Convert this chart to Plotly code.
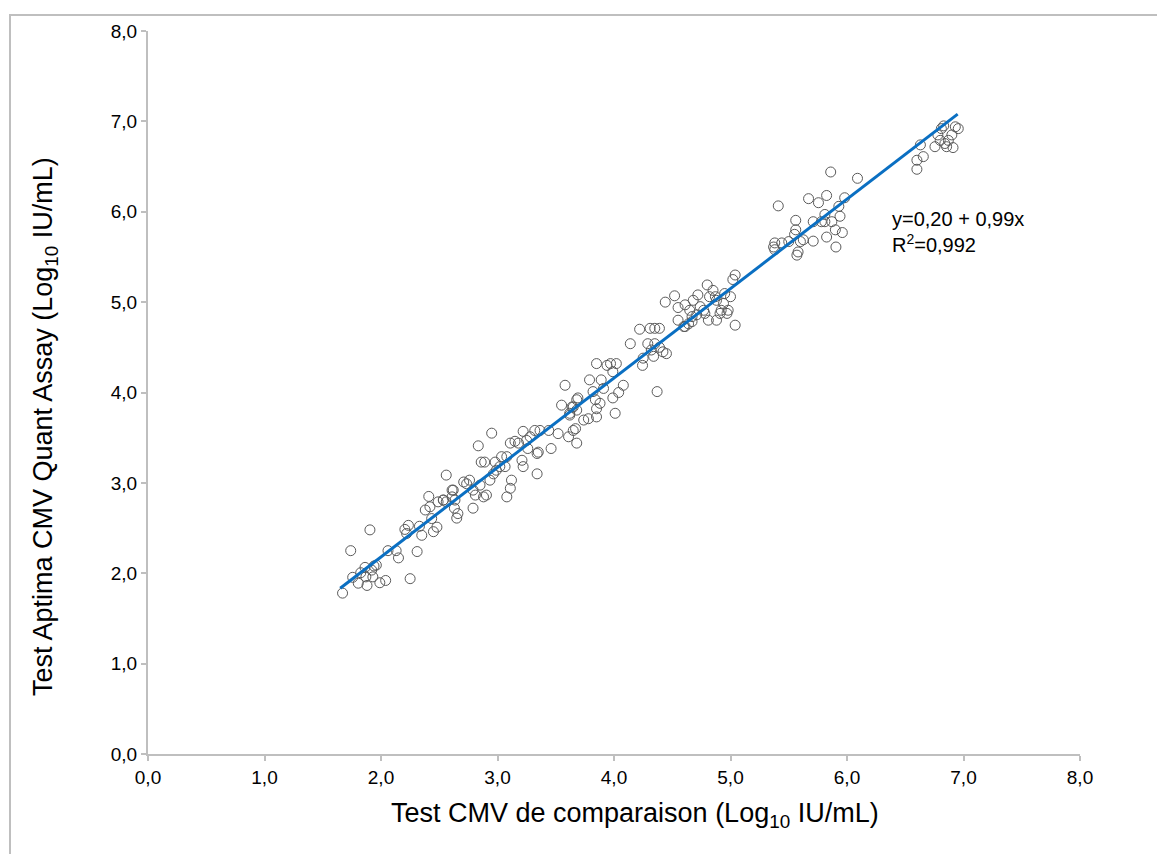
import plotly.graph_objects as go

# Comparison assay (x) vs Aptima CMV Quant (y), log10 IU/mL
x_vals = [
    1.67, 1.74, 1.905, 1.757, 1.805, 1.826, 1.863, 1.88, 1.87, 1.92, 1.94, 1.96, 1.93, 1.99, 2.04, 2.06, 2.13, 2.15, 2.25, 2.31,
    2.205, 2.235, 2.22, 2.35, 2.33, 2.41, 2.38, 2.42, 2.45, 2.48, 2.435, 2.49, 2.535, 2.56, 2.61, 2.65, 2.63,
    2.56, 2.95, 2.835, 2.86, 2.89, 2.71, 2.735, 2.76, 2.79, 2.81, 2.62, 2.61, 2.635, 2.535, 2.66, 2.79, 2.88, 2.905,
    2.85, 2.935, 2.965, 2.99, 3.02, 3.065, 3.08, 3.12, 3.11, 3.08, 2.98, 3.035, 3.11, 3.15, 3.18, 3.22, 3.22, 3.21,
    3.25, 3.26, 3.28, 3.34, 3.35, 3.34, 3.32, 3.365, 3.44, 3.46, 3.52, 3.55, 3.61, 3.65, 3.68, 3.62, 3.65, 3.68, 3.68,
    3.58, 3.64, 3.62, 3.67, 3.74, 3.78, 3.69, 3.79, 3.82, 3.84, 3.85, 3.85, 3.88, 3.89, 3.91, 3.85, 3.94, 3.97, 4.02,
    3.99, 3.99, 4.01, 4.04, 4.08, 4.14, 4.22, 4.245, 4.25, 4.29, 4.31, 4.35, 4.39, 4.35, 4.34, 4.37, 4.39, 4.42, 4.45,
    4.32, 4.55, 4.61, 4.64, 4.67, 4.44, 4.52, 4.55,
    5.04, 5.02, 5.04, 4.61, 4.68, 4.72, 4.80, 4.85, 4.82, 4.87, 4.88, 4.74, 4.77, 4.78, 4.65, 4.71, 4.67, 4.60, 4.81,
    4.88, 4.92, 4.94, 4.95, 4.98, 5.00, 4.97, 4.91,
    5.86, 6.09, 5.41, 5.67, 5.755, 5.825, 5.98, 5.93, 5.56, 5.71, 5.81, 5.78, 5.81, 5.87, 5.94, 5.90, 5.96, 5.825,
    5.905, 5.71, 5.625, 5.56, 5.55, 5.60, 5.50, 5.44, 5.38, 5.37, 5.38, 5.58, 5.57,
    6.83, 6.81, 6.93, 6.955, 6.90, 6.87, 6.84, 6.78, 6.80, 6.755, 6.855, 6.91, 6.63, 6.655, 6.60, 6.60,
]
y_vals = [
    1.78, 2.25, 2.48, 1.955, 1.89, 2.006, 2.065, 1.865, 1.96, 2.035, 2.08, 2.09, 1.96, 1.895, 1.92, 2.25, 2.25, 2.17, 1.94, 2.24,
    2.485, 2.53, 2.44, 2.42, 2.52, 2.85, 2.70, 2.735, 2.46, 2.51, 2.605, 2.79, 2.81, 2.79, 2.92, 2.61, 2.72,
    3.086, 3.55, 3.41, 3.23, 3.23, 3.01, 2.99, 3.03, 2.92, 2.865, 2.92, 2.845, 2.81, 2.81, 2.66, 2.72, 2.845, 2.865,
    2.975, 3.03, 3.10, 3.14, 3.18, 3.18, 3.29, 3.03, 2.94, 2.845, 3.23, 3.29, 3.44, 3.46, 3.44, 3.57, 3.18, 3.25,
    3.47, 3.38, 3.51, 3.325, 3.34, 3.10, 3.58, 3.58, 3.58, 3.38, 3.545, 3.86, 3.51, 3.58, 3.44, 3.75, 3.84, 3.805, 3.92,
    4.08, 3.84, 3.77, 3.60, 3.695, 3.71, 3.94, 4.14, 4.01, 3.92, 3.82, 3.73, 3.88, 4.14, 4.045, 4.32, 4.30, 4.32, 4.32,
    4.23, 3.94, 3.77, 4.00, 4.08, 4.54, 4.70, 4.30, 4.38, 4.54, 4.71, 4.71, 4.71, 4.54, 4.40, 4.01, 4.50, 4.45, 4.43,
    4.47, 4.80, 4.73, 4.76, 4.84, 5.00, 5.07, 4.94,
    5.30, 5.25, 4.745, 4.97, 5.02, 5.08, 5.19, 5.13, 5.06, 5.06, 5.02, 4.95, 4.91, 4.875, 4.91, 4.86, 4.785, 4.73, 4.80,
    4.80, 4.91, 4.985, 5.095, 4.91, 5.06, 4.875, 4.875,
    6.44, 6.37, 6.065, 6.145, 6.10, 6.18, 6.155, 6.06, 5.905, 5.89, 5.97, 5.89, 5.89, 5.89, 5.95, 5.80, 5.77, 5.72,
    5.61, 5.675, 5.69, 5.80, 5.75, 5.67, 5.67, 5.655, 5.655, 5.61, 5.58, 5.555, 5.52,
    6.95, 6.92, 6.94, 6.92, 6.85, 6.79, 6.755, 6.85, 6.79, 6.72, 6.72, 6.71, 6.74, 6.61, 6.57, 6.47,
]

fit_intercept = 0.20
fit_slope = 0.99
fit_x_range = [1.65, 6.95]

tick_vals = [0, 1, 2, 3, 4, 5, 6, 7, 8]
x_title = "Test CMV de comparaison (Log<sub>10</sub> IU/mL)"
y_title = "Test Aptima CMV Quant Assay (Log<sub>10</sub> IU/mL)"
eq_text = "y=0,20 + 0,99x<br>R<sup>2</sup>=0,992"

fit_y = [fit_intercept + fit_slope * v for v in fit_x_range]

# the page body adds an 8px margin, so the figure is sized/offset accordingly
OFF = 8
W, H = 1165 - OFF, 854 - OFF
ml, mt = 148 - OFF, 31 - OFF
pw, ph = 932, 723
mr, mb = W - ml - pw, H - mt - ph


def px_to_paper_x(px):
    return (px - OFF - ml) / pw


def px_to_paper_y(py):
    return (ph + mt - (py - OFF)) / ph


FONT = "Liberation Sans, Arial"

fig = go.Figure()
fig.add_trace(go.Scatter(
    x=x_vals, y=y_vals, mode="markers",
    marker=dict(symbol="circle-open", size=10, color="#5a5a5a", line=dict(width=1, color="#5a5a5a")),
    showlegend=False, hoverinfo="x+y",
))
fig.add_trace(go.Scatter(
    x=fit_x_range, y=fit_y, mode="lines",
    line=dict(color="#0A6FC2", width=3), showlegend=False,
))

axis_common = dict(
    range=[0, 8], tickvals=tick_vals, tickformat=".1f",
    showgrid=False, zeroline=False, showline=True, linecolor="#BFBFBF", linewidth=2,
    ticks="outside", ticklen=5, tickwidth=1.5, tickcolor="#BFBFBF",
    tickfont=dict(family=FONT, size=19, color="#000"),
    fixedrange=True,
)
fig.update_xaxes(**axis_common)
fig.update_yaxes(**axis_common)

# axis titles
fig.add_annotation(
    x=px_to_paper_x(635), y=px_to_paper_y(815), xref="paper", yref="paper",
    text=x_title, showarrow=False, xanchor="center", yanchor="middle",
    font=dict(family=FONT, size=27, color="#000"),
)
fig.add_annotation(
    x=px_to_paper_x(45), y=px_to_paper_y(427), xref="paper", yref="paper",
    text=y_title, showarrow=False, xanchor="center", yanchor="middle", textangle=-90,
    font=dict(family=FONT, size=27, color="#000"),
)

fig.add_annotation(
    x=6.37, y=6.06, xref="x", yref="y", text=eq_text, showarrow=False,
    xanchor="left", yanchor="top", align="left",
    font=dict(family=FONT, size=20, color="#000"),
)

# outer frame
fig.add_shape(
    type="rect", xref="paper", yref="paper",
    x0=px_to_paper_x(10), x1=px_to_paper_x(1163),
    y0=px_to_paper_y(860), y1=px_to_paper_y(15),
    line=dict(color="#BFBFBF", width=2), fillcolor="rgba(0,0,0,0)", layer="below",
)

fig.update_layout(
    width=W, height=H, separators=", ",
    margin=dict(l=ml, r=mr, t=mt, b=mb),
    plot_bgcolor="white", paper_bgcolor="white",
    font=dict(family=FONT, color="#000"),
)

fig.write_html("out.html")
